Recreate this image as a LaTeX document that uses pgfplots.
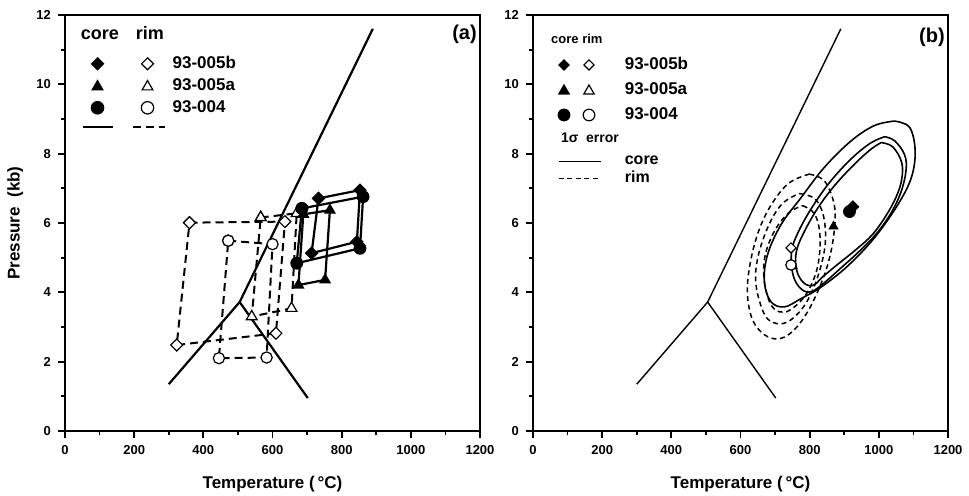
\documentclass[border=0pt]{standalone}
\usepackage{fontspec}
\setmainfont{Liberation Sans}
\usepackage{pgfplots}
\pgfplotsset{compat=1.18}

\pgfplotsset{
  pt panel/.style={
    width=207.5pt, height=208pt, scale only axis,
    xmin=0, xmax=1200, ymin=0, ymax=12,
    xtick={0,200,...,1200}, ytick={0,2,...,12},
    minor x tick num=1, minor y tick num=1,
    xtick pos=bottom, ytick pos=left,
    tick align=outside,
    major tick length=3.5pt, minor tick length=2pt,
    tick style={black, line width=0.9pt},
    axis line style={line width=1.2pt},
    tick label style={font=\fontsize{6.5}{7}\selectfont\bfseries},
    /pgf/number format/assume math mode=true,
    /pgf/number format/set thousands separator={},
    xlabel={Temperature (\,°C)},
    xlabel style={font=\fontsize{8.5}{9}\selectfont\bfseries,
      at={(axis description cs:0.5,-0.127)}, anchor=center},
    legend style={draw=none, fill=none, inner sep=0pt, row sep=0pt,
      anchor=north west, font=\fontsize{8.5}{9}\selectfont\bfseries,
      nodes={inner sep=0pt}},
    legend cell align=left,
  },
  core/.style={black, line width=1.1pt,
    mark options={solid, fill=black, line width=0.6pt}},
  rim/.style={black, line width=1pt, dash pattern=on 4pt off 2.5pt,
    mark options={solid, fill=white, line width=0.6pt}},
  dmd/.style={mark=square*, mark size=#1, every mark/.append style={rotate=45}},
  ell/.style={black, line width=0.8pt, smooth, tension=0.6},
  dell/.style={black, line width=0.75pt, smooth, tension=0.6, dash pattern=on 2.5pt off 1.8pt},
}

\begin{document}
\begin{tikzpicture}
\path[use as bounding box] (0,0) rectangle (484.5pt,247.5pt);

% ---------------- (a) ----------------
\begin{axis}[pt panel, at={(32.5pt,32pt)}, anchor=south west,
  ylabel={Pressure\ \ (kb)},
  ylabel style={font=\fontsize{8.5}{9}\selectfont\bfseries,
    at={(axis description cs:-0.12,0.5)}, anchor=center},
  legend style={at={(0.034,0.976)}, column sep=3.5pt},
]
\addlegendimage{legend image code/.code={
  \path[draw=none, fill=none] (-9pt,-8.7pt) rectangle (34pt,5pt);
  \node[anchor=base west, inner sep=0pt, font=\fontsize{9}{10}\selectfont\bfseries] at (-8.5pt,-2.3pt) {core};
  \node[anchor=base west, inner sep=0pt, font=\fontsize{9}{10}\selectfont\bfseries] at (19pt,-2.3pt) {rim};
}}
\addlegendentry{}
\addlegendimage{legend image code/.code={
  \path[draw=none, fill=none] (-9pt,-5.5pt) rectangle (34pt,5.5pt);
  \draw[black, fill=black, line width=0.6pt] plot[mark=square*, mark size=2.1pt, mark options={rotate=45}] coordinates {(0pt,0pt)};
  \draw[black, fill=white, line width=0.6pt] plot[mark=square*, mark size=2.1pt, mark options={rotate=45}] coordinates {(25pt,0pt)};
}}
\addlegendentry{93-005b}
\addlegendimage{legend image code/.code={
  \path[draw=none, fill=none] (-9pt,-5.5pt) rectangle (34pt,5.5pt);
  \draw[black, fill=black, line width=0.6pt] plot[mark=triangle*, mark size=3.1pt] coordinates {(0pt,-0.5pt)};
  \draw[black, fill=white, line width=0.6pt] plot[mark=triangle*, mark size=3.1pt] coordinates {(25pt,-0.5pt)};
}}
\addlegendentry{93-005a}
\addlegendimage{legend image code/.code={
  \path[draw=none, fill=none] (-9pt,-5.5pt) rectangle (34pt,5.5pt);
  \draw[black, fill=black, line width=0.6pt] plot[mark=*, mark size=3.1pt] coordinates {(0pt,0pt)};
  \draw[black, fill=white, line width=0.6pt] plot[mark=*, mark size=3.1pt] coordinates {(25pt,0pt)};
}}
\addlegendentry{93-004}
\addlegendimage{legend image code/.code={
  \path[draw=none, fill=none] (-9pt,-4pt) rectangle (34pt,4.2pt);
  \draw[black, line width=1.1pt] (-7.5pt,0pt) -- (7.5pt,0pt);
  \draw[black, line width=1.1pt, dash pattern=on 4pt off 2.5pt] (17.5pt,0pt) -- (33.5pt,0pt);
}}
\addlegendentry{}

% reaction lines
\addplot[black, line width=1.1pt, forget plot] coordinates {(300,1.35) (505,3.72) (890,11.6)};
\addplot[black, line width=1.1pt, forget plot] coordinates {(505,3.72) (702,0.95)};

% rim (dashed, open marks)
\addplot[rim, dmd=2.1pt, forget plot] coordinates {(360,6.01) (636,6.04) (610,2.82) (323,2.48) (360,6.01)};
\addplot[rim, mark=triangle*, mark size=3.1pt, forget plot] coordinates {(566,6.16) (670,6.28) (655,3.54) (540,3.30) (566,6.16)};
\addplot[rim, mark=*, mark size=2.8pt, forget plot] coordinates {(472,5.49) (600,5.39) (583,2.12) (445,2.10) (472,5.49)};

% core (solid, filled marks)
\addplot[core, mark=triangle*, mark size=2.9pt, forget plot] coordinates {(689,6.25) (766,6.37) (752,4.36) (675,4.21) (689,6.25)};
\addplot[core, dmd=2.1pt, forget plot] coordinates {(733,6.71) (853,6.95) (844,5.46) (713,5.13) (733,6.71)};
\addplot[core, mark=*, mark size=2.9pt, forget plot] coordinates {(685,6.42) (862,6.76) (853,5.27) (670,4.84) (685,6.42)};

\node[anchor=east, inner sep=0pt, font=\fontsize{10}{11}\selectfont\bfseries] at (rel axis cs:0.993,0.953) {(a)};
\end{axis}

% ---------------- (b) ----------------
\begin{axis}[pt panel, at={(266.5pt,32pt)}, anchor=south west,
  legend style={at={(0.040,0.964)}, column sep=3pt},
]
\addlegendimage{legend image code/.code={
  \path[draw=none, fill=none] (-7pt,-6.05pt) rectangle (20pt,5pt);
  \node[anchor=base west, inner sep=0pt, font=\fontsize{6.5}{7}\selectfont\bfseries] at (-6.6pt,-1.7pt) {core rim};
}}
\addlegendentry{}
\addlegendimage{legend image code/.code={
  \path[draw=none, fill=none] (-7pt,-6.25pt) rectangle (20pt,6.25pt);
  \draw[black, fill=black, line width=0.6pt] plot[mark=square*, mark size=1.8pt, mark options={rotate=45}] coordinates {(0pt,0pt)};
  \draw[black, fill=white, line width=0.6pt] plot[mark=square*, mark size=1.8pt, mark options={rotate=45}] coordinates {(12.5pt,0pt)};
}}
\addlegendentry{93-005b}
\addlegendimage{legend image code/.code={
  \path[draw=none, fill=none] (-7pt,-6.25pt) rectangle (20pt,6.25pt);
  \draw[black, fill=black, line width=0.6pt] plot[mark=triangle*, mark size=3pt] coordinates {(0pt,-0.5pt)};
  \draw[black, fill=white, line width=0.6pt] plot[mark=triangle*, mark size=3pt] coordinates {(12.5pt,-0.5pt)};
}}
\addlegendentry{93-005a}
\addlegendimage{legend image code/.code={
  \path[draw=none, fill=none] (-7pt,-6.25pt) rectangle (20pt,6.25pt);
  \draw[black, fill=black, line width=0.6pt] plot[mark=*, mark size=2.9pt] coordinates {(0pt,0pt)};
  \draw[black, fill=white, line width=0.6pt] plot[mark=*, mark size=2.9pt] coordinates {(12.5pt,0pt)};
}}
\addlegendentry{93-004}
\addlegendimage{legend image code/.code={
  \path[draw=none, fill=none] (-7pt,-6.25pt) rectangle (20pt,5.45pt);
  \node[anchor=base west, inner sep=0pt, font=\fontsize{7}{8}\selectfont\bfseries] at (-1.7pt,-2.2pt) {1σ\ \ error};
}}
\addlegendentry{}
\addlegendimage{legend image code/.code={
  \path[draw=none, fill=none] (-7pt,-4.15pt) rectangle (20pt,5.45pt);
  \draw[black, line width=0.7pt] (-2.7pt,0pt) -- (18.3pt,0pt);
}}
\addlegendentry{\fontsize{8}{9}\selectfont core}
\addlegendimage{legend image code/.code={
  \path[draw=none, fill=none] (-7pt,-4pt) rectangle (20pt,4.15pt);
  \draw[black, line width=0.7pt, dash pattern=on 2.5pt off 1.8pt] (-2.7pt,0pt) -- (18.3pt,0pt);
}}
\addlegendentry{\fontsize{8}{9}\selectfont rim}

% reaction lines
\addplot[black, line width=0.7pt, forget plot] coordinates {(300,1.35) (505,3.72) (890,11.6)};
\addplot[black, line width=0.7pt, forget plot] coordinates {(505,3.72) (702,0.95)};

% 1 sigma error contours, rim (dashed)
\addplot[dell, forget plot] coordinates {(799,7.41) (843,7.21) (871,6.53) (871,5.76) (852,4.79) (814,3.82) (775,3.15) (736,2.76) (698,2.66) (659,2.86) (630,3.34) (620,4.21) (640,5.37) (678,6.34) (736,7.12) (799,7.41)};
\addplot[dell, forget plot] coordinates {(770,6.85) (815,6.70) (840,6.20) (845,5.40) (825,4.50) (790,3.70) (745,3.20) (705,3.10) (670,3.35) (645,4.20) (650,5.00) (680,5.90) (720,6.55) (770,6.85)};
\addplot[dell, forget plot] coordinates {(780,6.50) (815,6.25) (830,5.60) (822,4.70) (790,3.95) (745,3.50) (712,3.44) (685,3.70) (668,4.40) (672,5.10) (700,5.80) (740,6.30) (780,6.50)};

% 1 sigma error contours, core (solid)
\addplot[ell, forget plot] coordinates {(1045,8.94) (1089,8.76) (1105,8.08) (1094,7.31) (1055,6.53) (987,5.57) (910,4.76) (833,4.15) (775,3.82) (727,3.58) (688,3.73) (669,4.31) (678,5.08) (717,5.95) (775,6.73) (842,7.60) (920,8.37) (987,8.81) (1045,8.94)};
\addplot[ell, forget plot] coordinates {(1017,8.49) (1046,8.37) (1074,7.98) (1079,7.55) (1065,6.92) (1036,6.30) (992,5.68) (940,5.15) (890,4.70) (845,4.30) (805,4.02) (775,4.10) (752,4.50) (748,5.20) (770,5.80) (810,6.50) (860,7.20) (920,7.85) (975,8.30) (1017,8.49)};
\addplot[ell, forget plot] coordinates {(1007,8.32) (1040,8.20) (1066,7.75) (1066,7.25) (1050,6.75) (1020,6.20) (980,5.65) (930,5.20) (880,4.80) (838,4.45) (810,4.20) (782,4.28) (762,4.65) (762,5.20) (787,5.80) (828,6.50) (878,7.15) (935,7.75) (980,8.15) (1007,8.32)};

% mean P-T, core filled and rim open
\addplot[black, only marks, mark options={fill=black}, dmd=2.1pt, forget plot] coordinates {(925,6.47)};
\addplot[black, only marks, mark=*, mark size=3pt, mark options={fill=black}, forget plot] coordinates {(915,6.33)};
\addplot[black, only marks, mark=triangle*, mark size=2.6pt, mark options={fill=black}, forget plot] coordinates {(869,5.90)};
\addplot[black, only marks, mark options={fill=white, line width=0.6pt}, dmd=1.8pt, forget plot] coordinates {(746,5.28)};
\addplot[black, only marks, mark=triangle*, mark size=2.6pt, mark options={fill=white, line width=0.6pt}, forget plot] coordinates {(750,4.76)};
\addplot[black, only marks, mark=*, mark size=2.6pt, mark options={fill=white, line width=0.6pt}, forget plot] coordinates {(746,4.79)};

\node[anchor=east, inner sep=0pt, font=\fontsize{10}{11}\selectfont\bfseries] at (rel axis cs:0.993,0.947) {(b)};
\end{axis}
\end{tikzpicture}
\end{document}
